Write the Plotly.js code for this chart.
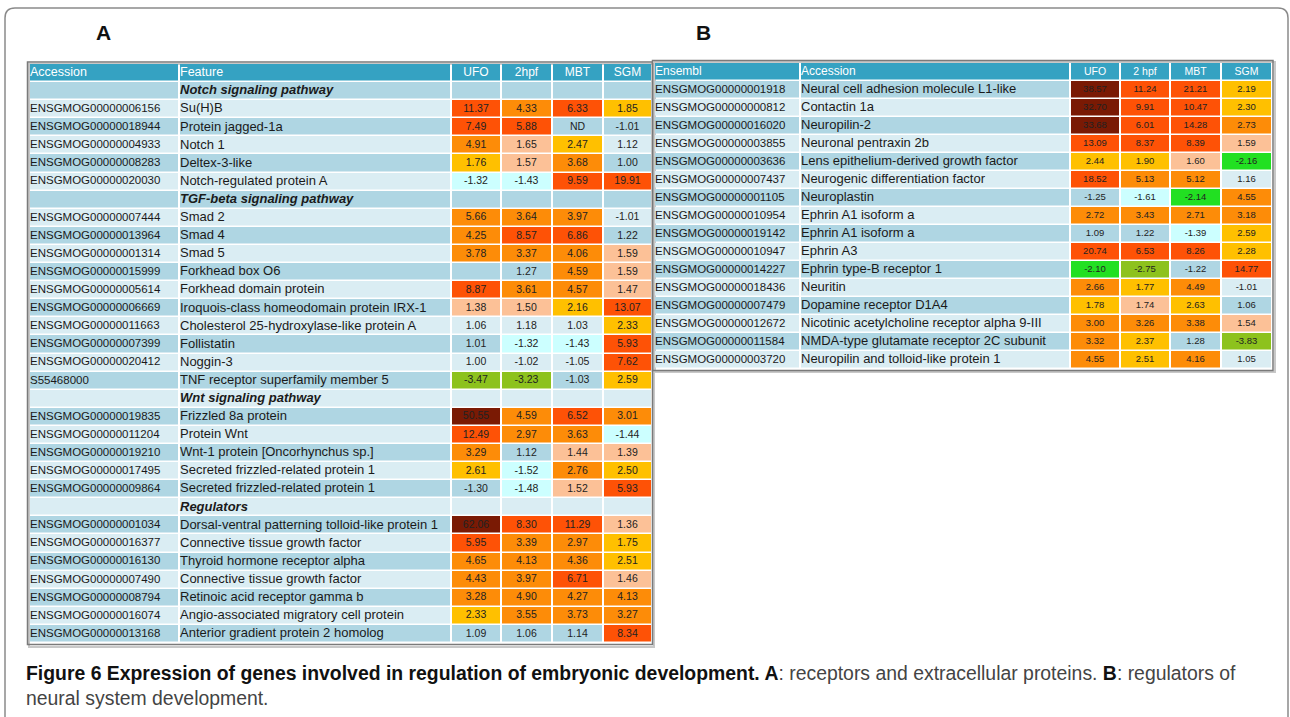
<!DOCTYPE html>
<html><head><meta charset="utf-8">
<script src="https://cdn.plot.ly/plotly-3.0.1.min.js"></script>
<style>html,body{margin:0;padding:0;background:#fff;}#chart{width:1290px;height:717px;}</style>
</head><body><div id="chart"></div>
<script>
// ---------- Table A data ----------
const headerA = ['Accession', 'Feature', 'UFO', '2hpf', 'MBT', 'SGM'];
const accessionA = ['', 'ENSGMOG00000006156', 'ENSGMOG00000018944', 'ENSGMOG00000004933', 'ENSGMOG00000008283', 'ENSGMOG00000020030',
  '', 'ENSGMOG00000007444', 'ENSGMOG00000013964', 'ENSGMOG00000001314', 'ENSGMOG00000015999', 'ENSGMOG00000005614',
  'ENSGMOG00000006669', 'ENSGMOG00000011663', 'ENSGMOG00000007399', 'ENSGMOG00000020412', 'S55468000',
  '', 'ENSGMOG00000019835', 'ENSGMOG00000011204', 'ENSGMOG00000019210', 'ENSGMOG00000017495', 'ENSGMOG00000009864',
  '', 'ENSGMOG00000001034', 'ENSGMOG00000016377', 'ENSGMOG00000016130', 'ENSGMOG00000007490', 'ENSGMOG00000008794',
  'ENSGMOG00000016074', 'ENSGMOG00000013168'];
const featureA = ['Notch signaling pathway', 'Su(H)B', 'Protein jagged-1a', 'Notch 1', 'Deltex-3-like', 'Notch-regulated protein A',
  'TGF-beta signaling pathway', 'Smad 2', 'Smad 4', 'Smad 5', 'Forkhead box O6', 'Forkhead domain protein',
  'Iroquois-class homeodomain protein IRX-1', 'Cholesterol 25-hydroxylase-like protein A', 'Follistatin', 'Noggin-3',
  'TNF receptor superfamily member 5',
  'Wnt signaling pathway', 'Frizzled 8a protein', 'Protein Wnt', 'Wnt-1 protein [Oncorhynchus sp.]',
  'Secreted frizzled-related protein 1', 'Secreted frizzled-related protein 1',
  'Regulators', 'Dorsal-ventral patterning tolloid-like protein 1', 'Connective tissue growth factor',
  'Thyroid hormone receptor alpha', 'Connective tissue growth factor', 'Retinoic acid receptor gamma b',
  'Angio-associated migratory cell protein', 'Anterior gradient protein 2 homolog'];
const ufoA  = [null, 11.37, 7.49, 4.91, 1.76, -1.32, null, 5.66, 4.25, 3.78, '', 8.87, 1.38, 1.06, 1.01, 1.00, -3.47,
  null, 50.55, 12.49, 3.29, 2.61, -1.30, null, 62.06, 5.95, 4.65, 4.43, 3.28, 2.33, 1.09];
const hpf2A = [null, 4.33, 5.88, 1.65, 1.57, -1.43, null, 3.64, 8.57, 3.37, 1.27, 3.61, 1.50, 1.18, -1.32, -1.02, -3.23,
  null, 4.59, 2.97, 1.12, -1.52, -1.48, null, 8.30, 3.39, 4.13, 3.97, 4.90, 3.55, 1.06];
const mbtA  = [null, 6.33, 'ND', 2.47, 3.68, 9.59, null, 3.97, 6.86, 4.06, 4.59, 4.57, 2.16, 1.03, -1.43, -1.05, -1.03,
  null, 6.52, 3.63, 1.44, 2.76, 1.52, null, 11.29, 2.97, 4.36, 6.71, 4.27, 3.73, 1.14];
const sgmA  = [null, 1.85, -1.01, 1.12, 1.00, 19.91, null, -1.01, 1.22, 1.59, 1.59, 1.47, 13.07, 2.33, 5.93, 7.62, 2.59,
  null, 3.01, -1.44, 1.39, 2.50, 5.93, null, 1.36, 1.75, 2.51, 1.46, 4.13, 3.27, 8.34];

// ---------- Table B data ----------
const headerB = ['Ensembl', 'Accession', 'UFO', '2 hpf', 'MBT', 'SGM'];
const ensemblB = ['ENSGMOG00000001918', 'ENSGMOG00000000812', 'ENSGMOG00000016020', 'ENSGMOG00000003855',
  'ENSGMOG00000003636', 'ENSGMOG00000007437', 'ENSGMOG00000001105', 'ENSGMOG00000010954', 'ENSGMOG00000019142',
  'ENSGMOG00000010947', 'ENSGMOG00000014227', 'ENSGMOG00000018436', 'ENSGMOG00000007479', 'ENSGMOG00000012672',
  'ENSGMOG00000011584', 'ENSGMOG00000003720'];
const accessionB = ['Neural cell adhesion molecule L1-like', 'Contactin 1a', 'Neuropilin-2', 'Neuronal pentraxin 2b',
  'Lens epithelium-derived growth factor', 'Neurogenic differentiation factor', 'Neuroplastin', 'Ephrin A1 isoform a',
  'Ephrin A1 isoform a', 'Ephrin A3', 'Ephrin type-B receptor 1', 'Neuritin', 'Dopamine receptor D1A4',
  'Nicotinic acetylcholine receptor alpha 9-III', 'NMDA-type glutamate receptor 2C subunit',
  'Neuropilin and tolloid-like protein 1'];
const ufoB  = [38.57, 32.70, 33.68, 13.09, 2.44, 18.52, -1.25, 2.72, 1.09, 20.74, -2.10, 2.66, 1.78, 3.00, 3.32, 4.55];
const hpf2B = [11.24, 9.91, 6.01, 8.37, 1.90, 5.13, -1.61, 3.43, 1.22, 6.53, -2.75, 1.77, 1.74, 3.26, 2.37, 2.51];
const mbtB  = [21.21, 10.47, 14.28, 8.39, 1.60, 5.12, -2.14, 2.71, -1.39, 8.26, -1.22, 4.49, 2.63, 3.38, 1.28, 4.16];
const sgmB  = [2.19, 2.30, 2.73, 1.59, -2.16, 1.16, 4.55, 3.18, 2.59, 2.28, 14.77, -1.01, 1.06, 1.54, -3.83, 1.05];

// ---------- styling ----------
const W = 1290, H = 717;
const FONT = 'Liberation Sans, Arial, sans-serif';
const palette = ['#35a2c2', '#afd6e3', '#daedf3', '#7a1a04', '#fe5206', '#fd8c08', '#ffc000', '#fcc197', '#ccffff', '#22e022', '#8dc21d'];
const ncat = palette.length;
const colorscale = [];
palette.forEach((c, i) => { colorscale.push([i / ncat, c]); colorscale.push([(i + 1) / ncat, c]); });

function category(v) {
  if (typeof v !== 'number') return null;
  if (v >= 30) return 3;
  if (v >= 5.8) return 4;
  if (v >= 2.65) return 5;
  if (v >= 1.75) return 6;
  if (v >= 1.35) return 7;
  if (v > -1.32) return null;
  if (v > -2) return 8;
  if (v > -2.5) return 9;
  return 10;
}
function fmt(v) { return typeof v === 'number' ? v.toFixed(2) : (v == null ? '' : String(v)); }

function buildTable(opts) {
  const { header, col1, col2, series, widths, xa, ya, sectionFlags, valFont, idFont, txtFont, hdrFont, hdrValFont } = opts;
  const n = col1.length;
  const edges = [0]; widths.forEach(w => edges.push(edges[edges.length - 1] + w));
  const ys = []; for (let r = 0; r <= n; r++) ys.push(r);
  const z = [];
  z.push(header.map(() => 0));
  for (let i = 0; i < n; i++) {
    const r = i + 1;
    const bg = (r % 2 === 1) ? 1 : 2;
    const row = [bg, bg];
    series.forEach(s => { const c = category(s[i]); row.push(c == null ? bg : c); });
    z.push(row);
  }
  const traces = [];
  traces.push({
    type: 'heatmap', x: edges, y: ys, z: z, xaxis: xa, yaxis: ya,
    colorscale: colorscale, zmin: 0, zmax: ncat, showscale: false, xgap: 2, ygap: 1.5,
    hoverinfo: 'skip'
  });
  const rowsY = []; for (let i = 0; i < n; i++) rowsY.push(i + 1);
  traces.push({ type: 'scatter', mode: 'text', xaxis: xa, yaxis: ya, x: [edges[0] + 1, edges[1] + 1], y: [0, 0],
    text: [header[0], header[1]], textposition: 'middle right', cliponaxis: false,
    textfont: { family: FONT, size: hdrFont, color: '#ffffff' }, hoverinfo: 'skip' });
  traces.push({ type: 'scatter', mode: 'text', xaxis: xa, yaxis: ya,
    x: [2, 3, 4, 5].map(c => (edges[c] + edges[c + 1]) / 2), y: [0, 0, 0, 0],
    text: header.slice(2), textposition: 'middle center', cliponaxis: false,
    textfont: { family: FONT, size: hdrValFont, color: '#ffffff' }, hoverinfo: 'skip' });
  traces.push({ type: 'scatter', mode: 'text', xaxis: xa, yaxis: ya, x: rowsY.map(() => edges[0] + 1), y: rowsY,
    text: col1, textposition: 'middle right', cliponaxis: false,
    textfont: { family: FONT, size: idFont, color: '#1a1a1a' }, hoverinfo: 'skip' });
  traces.push({ type: 'scatter', mode: 'text', xaxis: xa, yaxis: ya, x: rowsY.map(() => edges[1] + 1), y: rowsY,
    text: col2.map((t, i) => sectionFlags[i] ? '<b><i>' + t + '</i></b>' : t), textposition: 'middle right', cliponaxis: false,
    textfont: { family: FONT, size: txtFont, color: '#1a1a1a' }, hoverinfo: 'skip' });
  series.forEach((s, k) => {
    const cx = (edges[k + 2] + edges[k + 3]) / 2;
    traces.push({ type: 'scatter', mode: 'text', xaxis: xa, yaxis: ya, x: rowsY.map(() => cx), y: rowsY,
      text: s.map(fmt), textposition: 'middle center', cliponaxis: false,
      textfont: { family: FONT, size: valFont, color: '#222222' }, hoverinfo: 'skip' });
  });
  return { traces, total: edges[edges.length - 1], n };
}

const widthsA = [150, 272, 50, 51, 51, 49];
const widthsB = [146, 270, 50, 50, 51, 51];
const tA = buildTable({ header: headerA, col1: accessionA, col2: featureA, series: [ufoA, hpf2A, mbtA, sgmA],
  widths: widthsA, xa: 'x', ya: 'y', sectionFlags: accessionA.map(a => a === ''),
  valFont: 10.5, idFont: 11.5, txtFont: 13, hdrFont: 12.5, hdrValFont: 12 });
const tB = buildTable({ header: headerB, col1: ensemblB, col2: accessionB, series: [ufoB, hpf2B, mbtB, sgmB],
  widths: widthsB, xa: 'x2', ya: 'y2', sectionFlags: ensemblB.map(() => false),
  valFont: 9.5, idFont: 11.5, txtFont: 13, hdrFont: 12, hdrValFont: 10.5 });

const px = v => v / W, py = v => 1 - v / H;
function ax(domain, range) {
  return { domain: domain, range: range, showgrid: false, zeroline: false, showticklabels: false, ticks: '',
    showline: false, fixedrange: true };
}
function rectPath(x0, y0, x1, y1) {
  return `M ${px(x0)},${py(y0)} L ${px(x1)},${py(y0)} L ${px(x1)},${py(y1)} L ${px(x0)},${py(y1)} Z`;
}
const r = 10;
const outer = `M ${px(5)},${py(H + 5)} L ${px(5)},${py(8 + r)} Q ${px(5)},${py(8)} ${px(5 + r)},${py(8)} ` +
  `L ${px(1288 - r)},${py(8)} Q ${px(1288)},${py(8)} ${px(1288)},${py(8 + r)} L ${px(1288)},${py(H + 5)}`;

const layout = {
  width: W, height: H, margin: { l: 0, r: 0, t: 0, b: 0 }, paper_bgcolor: '#ffffff', plot_bgcolor: 'rgba(0,0,0,0)',
  showlegend: false,
  xaxis: ax([px(29), px(652)], [0, tA.total]),
  yaxis: ax([py(643), py(64)], [tA.n + 0.5, -0.5]),
  xaxis2: ax([px(654), px(1272)], [0, tB.total]),
  yaxis2: ax([py(369), py(63)], [tB.n + 0.5, -0.5]),
  shapes: [
    { type: 'path', xref: 'paper', yref: 'paper', path: outer, line: { color: '#8a8a8a', width: 1.5 } },
    { type: 'path', xref: 'paper', yref: 'paper', path: rectPath(29, 64, 654, 647), line: { color: '#c8c8c8', width: 2 }, layer: 'below' },
    { type: 'path', xref: 'paper', yref: 'paper', path: rectPath(655, 62, 1275, 372), line: { color: '#c8c8c8', width: 2 }, layer: 'below' },
    { type: 'path', xref: 'paper', yref: 'paper', path: rectPath(27.5, 62, 652.5, 644.5), line: { color: '#7a7a7a', width: 1.5 } },
    { type: 'path', xref: 'paper', yref: 'paper', path: rectPath(652.5, 60.5, 1273, 370.5), line: { color: '#7a7a7a', width: 1.5 } }
  ],
  annotations: [
    { xref: 'paper', yref: 'paper', x: px(103), y: py(33), xanchor: 'center', yanchor: 'middle', text: '<b>A</b>', showarrow: false,
      font: { family: 'Liberation Sans Narrow, Liberation Sans, Arial', size: 21, color: '#111' } },
    { xref: 'paper', yref: 'paper', x: px(703), y: py(33), xanchor: 'center', yanchor: 'middle', text: '<b>B</b>', showarrow: false,
      font: { family: 'Liberation Sans Narrow, Liberation Sans, Arial', size: 21, color: '#111' } },
    { xref: 'paper', yref: 'paper', x: px(24), y: py(673), xanchor: 'left', yanchor: 'middle', showarrow: false, align: 'left',
      text: '<span style="color:#111"><b>Figure 6 Expression of genes involved in regulation of embryonic development. A</b></span>: receptors and extracellular proteins. <span style="color:#111"><b>B</b></span>: regulators of',
      font: { family: FONT, size: 19.4, color: '#444' } },
    { xref: 'paper', yref: 'paper', x: px(24), y: py(698), xanchor: 'left', yanchor: 'middle', showarrow: false, align: 'left',
      text: 'neural system development.',
      font: { family: FONT, size: 19.4, color: '#444' } }
  ]
};

Plotly.newPlot('chart', tA.traces.concat(tB.traces), layout, { staticPlot: true, displayModeBar: false });
</script>
</body></html>
